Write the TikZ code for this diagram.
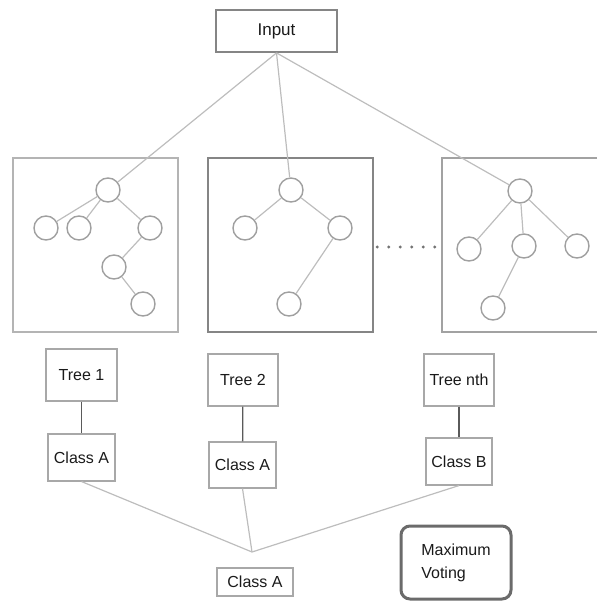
\documentclass[tikz,border=0pt]{standalone}
\usepackage{fontspec}
\setmainfont{Liberation Sans}
\usetikzlibrary{positioning}

\definecolor{frameA}{HTML}{B4B4B4}
\definecolor{frameB}{HTML}{858585}
\definecolor{frameC}{HTML}{A2A2A2}
\definecolor{circgray}{HTML}{A0A0A0}
\definecolor{linegray}{HTML}{BDBDBD}
\definecolor{boxgray}{HTML}{A8A8A8}
\definecolor{darkline}{HTML}{5A5A5A}
\definecolor{textgray}{HTML}{1A1A1A}

\tikzset{
  leaf/.style={circle, draw=circgray, fill=white, line width=1.4pt, minimum size=24pt, inner sep=0pt},
  frame/.style={line width=2.6pt, minimum width=165pt, minimum height=174pt, inner sep=0pt},
  lbox/.style={draw=boxgray, line width=1.1pt, inner sep=0pt, text=textgray, font=\fontsize{16}{19}\selectfont},
  branch/.style={draw=linegray, line width=1.2pt},
}

\begin{document}
\begin{tikzpicture}[x=1pt, y=-1pt, on grid]

    \useasboundingbox (0,0) rectangle (597,601);

    % Define nodes
    \node[lbox, draw=frameB, line width=1.8pt, minimum width=121pt, minimum height=42pt, font=\fontsize{17}{20}\selectfont] (inp) at (276.5,31) {Input};

    \node[frame, draw=frameA] (forest1) at (95.5,245) {};
    \node[frame, draw=frameB] (forest2) at (290.5,245) {};
    \draw[frameC, line width=2.6pt] (597,158) -- (442,158) -- (442,332) -- (597,332);
    \coordinate (forestn) at (442,247);

    % tree 1
    \node[leaf] (t1r) at (108,190) {};
    \node[leaf, below left=38pt and 62pt of t1r]  (t1a) {};
    \node[leaf, below left=38pt and 29pt of t1r]  (t1b) {};
    \node[leaf, below right=38pt and 42pt of t1r] (t1c) {};
    \node[leaf, below left=39pt and 36pt of t1c]  (t1d) {};
    \node[leaf, below right=37pt and 29pt of t1d] (t1e) {};

    % tree 2
    \node[leaf] (t2r) at (291,190) {};
    \node[leaf, below left=38pt and 46pt of t2r]  (t2a) {};
    \node[leaf, below right=38pt and 49pt of t2r] (t2b) {};
    \node[leaf, below left=76pt and 51pt of t2b]  (t2c) {};

    % tree n
    \node[leaf] (tnr) at (520,191) {};
    \node[leaf, below left=58pt and 51pt of tnr]  (tna) {};
    \node[leaf, below right=55pt and 4pt of tnr]  (tnb) {};
    \node[leaf, below right=55pt and 57pt of tnr] (tnc) {};
    \node[leaf, below left=62pt and 31pt of tnb]  (tnd) {};

    % labels under the forests
    \node[lbox, minimum width=71pt, minimum height=52pt] (tree1) at (81.5,375) {Tree 1};
    \node[lbox, minimum width=67pt, minimum height=47pt] (cls1) at (81.5,457.5) {Class A};
    \node[lbox, minimum width=70pt, minimum height=52pt] (tree2) at (243,380) {Tree 2};
    \node[lbox, minimum width=67pt, minimum height=46pt] (cls2) at (242.5,465) {Class A};
    \node[lbox, minimum width=70pt, minimum height=52pt] (treen) at (459,380) {Tree nth};
    \node[lbox, minimum width=66pt, minimum height=47pt] (clsn) at (459,461.5) {Class B};

    \coordinate (vote) at (252,552);
    \node[lbox, minimum width=76pt, minimum height=28pt] (result) at (255,582) {Class A};
    \node[lbox, draw=darkline!90, line width=3pt, rounded corners=9pt, minimum width=110pt, minimum height=73pt,
          align=left, font=\fontsize{16}{23}\selectfont] (maxvote) at (456,562.5) {Maximum\\Voting};

    % Connect the nodes
    \draw[branch] (inp.south) -- (t1r);
    \draw[branch] (inp.south) -- (t2r);
    \draw[branch] (inp.south) -- (tnr);

    \draw[branch] (t1r) -- (t1a);
    \draw[branch] (t1r) -- (t1b);
    \draw[branch] (t1r) -- (t1c);
    \draw[branch] (t1c) -- (t1d);
    \draw[branch] (t1d) -- (t1e);

    \draw[branch] (t2r) -- (t2a);
    \draw[branch] (t2r) -- (t2b);
    \draw[branch] (t2b) -- (t2c);

    \draw[branch] (tnr) -- (tna);
    \draw[branch] (tnr) -- (tnb);
    \draw[branch] (tnr) -- (tnc);
    \draw[branch] (tnb) -- (tnd);

    \draw[darkline!85, line width=3.2pt, line cap=round, dash pattern=on 0pt off 11.5pt]
        ([xshift=3pt]forest2.east |- forestn) -- ([xshift=-3pt]forestn);

    \draw[darkline, line width=1.3pt] (tree1) -- (cls1);
    \draw[darkline, line width=1.3pt] (tree2) -- (cls2);
    \draw[darkline, line width=1.3pt] (treen) -- (clsn);

    \draw[branch] (cls1.south) -- (vote);
    \draw[branch] (cls2.south) -- (vote);
    \draw[branch] (clsn.south) -- (vote);

\end{tikzpicture}
\end{document}
